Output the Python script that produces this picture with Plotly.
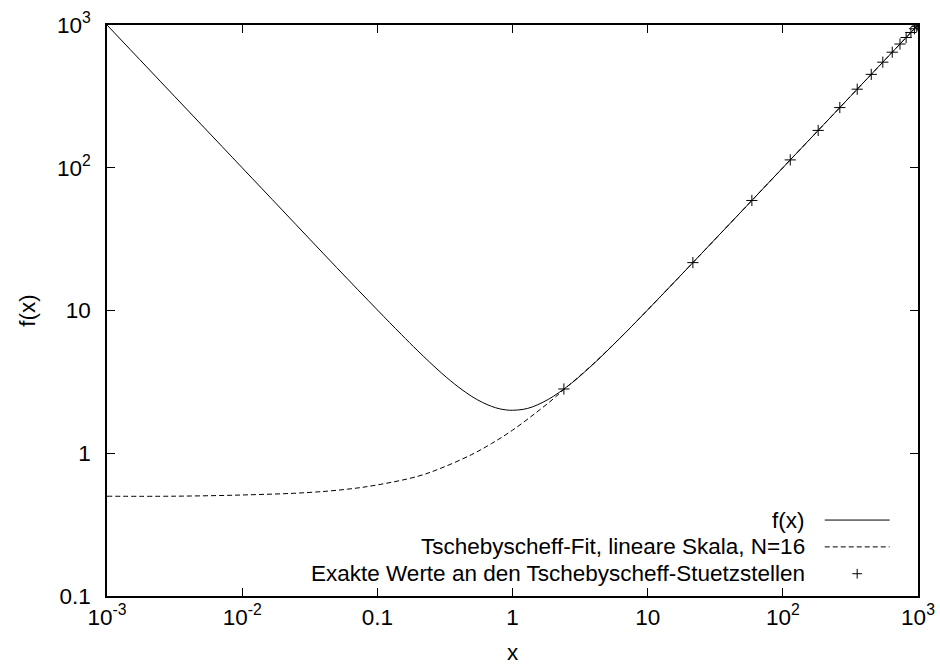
import plotly.graph_objects as go

# f(x) curve
x_f = [0.001, 0.002, 0.005, 0.01, 0.02, 0.05, 0.1, 0.15, 0.2, 0.3, 0.4, 0.5, 0.6, 0.7, 0.8, 0.9,
       1.0, 1.2, 1.4, 1.7, 2.0, 2.5, 3, 4, 5, 7, 10, 20, 50, 100, 200, 500, 1000]
y_f = [1000, 500, 200, 100, 50, 20, 10.1, 6.82, 5.2, 3.63, 2.9, 2.5, 2.27, 2.13, 2.05, 2.01,
       2.0, 2.03, 2.11, 2.29, 2.5, 2.9, 3.33, 4.25, 5.2, 7.14, 10.1, 20.05, 50, 100, 200, 500, 1000]

# Tschebyscheff fit, linear scale, N=16
x_fit = [0.001, 0.003, 0.01, 0.03, 0.06, 0.1, 0.2, 0.3, 0.5, 0.7, 1.0, 1.5, 2.0, 2.4, 3, 4, 5, 7,
         10, 20, 50, 100, 200, 500, 1000]
y_fit = [0.5, 0.5, 0.51, 0.53, 0.56, 0.6, 0.69, 0.79, 0.98, 1.17, 1.45, 1.93, 2.4, 2.8, 3.35, 4.27,
         5.22, 7.15, 10.1, 20.05, 50, 100, 200, 500, 1000]

# exact values at the Tschebyscheff nodes
x_nodes = [2.4, 21.6, 59.0, 113.5, 182.6, 264.0, 355.0, 451.0, 549.0, 645.0, 735.7, 817.0,
           886.5, 941.0, 978.4, 997.6]
y_nodes = [2.82, 21.65, 59.0, 113.5, 182.6, 264.0, 355.0, 451.0, 549.0, 645.0, 735.7, 817.0,
           886.5, 941.0, 978.4, 997.6]

x_tickvals = [0.001, 0.01, 0.1, 1, 10, 100, 1000]
x_ticktext = ["10<sup>-3</sup>", "10<sup>-2</sup>", "0.1", "1", "10", "10<sup>2</sup>", "10<sup>3</sup>"]
y_tickvals = [0.1, 1, 10, 100, 1000]
y_ticktext = ["0.1", "1", "10", "10<sup>2</sup>", "10<sup>3</sup>"]

legend_labels = ["f(x)", "Tschebyscheff-Fit, lineare Skala, N=16",
                 "Exakte Werte an den Tschebyscheff-Stuetzstellen"]

FONT = "Liberation Sans, Arial, sans-serif"
FS = 22.5

fig = go.Figure()
fig.add_trace(go.Scatter(x=x_f, y=y_f, mode="lines", line=dict(color="black", width=1, shape="spline"),
                         showlegend=False))
fig.add_trace(go.Scatter(x=x_fit, y=y_fit, mode="lines",
                         line=dict(color="black", width=1, dash="5px,3px", shape="spline"),
                         showlegend=False))
fig.add_trace(go.Scatter(x=x_nodes, y=y_nodes, mode="markers",
                         marker=dict(symbol="cross-thin", size=8, line=dict(color="black", width=1)),
                         showlegend=False))

# custom gnuplot-like key on an overlay axis (0..1 coordinates of the plot area)
key_y = [0.133, 0.086, 0.039]
fig.add_trace(go.Scatter(x=[0.885, 0.965], y=[key_y[0], key_y[0]], mode="lines",
                         line=dict(color="black", width=1), xaxis="x2", yaxis="y2", showlegend=False))
fig.add_trace(go.Scatter(x=[0.885, 0.965], y=[key_y[1], key_y[1]], mode="lines",
                         line=dict(color="black", width=1, dash="5px,3px"), xaxis="x2", yaxis="y2",
                         showlegend=False))
fig.add_trace(go.Scatter(x=[0.925], y=[key_y[2]], mode="markers",
                         marker=dict(symbol="cross-thin", size=7, line=dict(color="black", width=1)),
                         xaxis="x2", yaxis="y2", showlegend=False))
for lab, yy in zip(legend_labels, key_y):
    fig.add_annotation(x=0.863, y=yy, xref="x2", yref="y2", text=lab, showarrow=False,
                       xanchor="right", yanchor="middle", font=dict(family=FONT, size=FS, color="black"))

axis_common = dict(type="log", showgrid=False, zeroline=False, showline=True, linecolor="black",
                   linewidth=1.5, mirror="allticks", ticks="inside", ticklen=8, tickcolor="black",
                   tickwidth=1, automargin=False, tickfont=dict(family=FONT, size=FS, color="black"))

fig.update_layout(
    width=940, height=670,
    margin=dict(l=107, r=22, t=25, b=74),
    plot_bgcolor="white", paper_bgcolor="white",
    xaxis=dict(range=[-3, 3], tickvals=x_tickvals, ticktext=x_ticktext,
               title=dict(text="x", font=dict(family=FONT, size=FS, color="black")),
               ticklabelstandoff=0, **axis_common),
    yaxis=dict(range=[-1, 3], tickvals=y_tickvals, ticktext=y_ticktext,
               title=dict(text="f(x)", font=dict(family=FONT, size=FS, color="black")),
               ticklabelstandoff=10, **axis_common),
    xaxis2=dict(range=[0, 1], overlaying="x", visible=False, fixedrange=True),
    yaxis2=dict(range=[0, 1], overlaying="y", visible=False, fixedrange=True),
    showlegend=False,
)

fig.write_html("out.html", config={"displayModeBar": False},
               post_script="document.body.style.margin='0px';")
